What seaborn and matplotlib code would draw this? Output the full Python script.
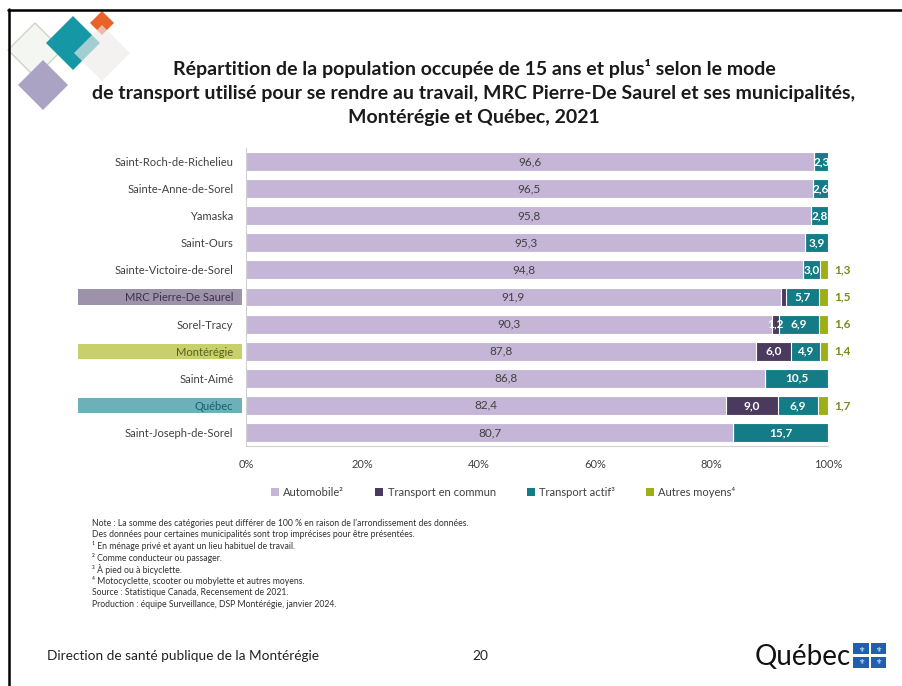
# Répartition de la population occupée selon le mode de transport - MRC Pierre-De Saurel
import numpy as np
import pandas as pd
import matplotlib
matplotlib.use('Agg')
import matplotlib.pyplot as plt
import seaborn as sns
from matplotlib.patches import Patch, Rectangle, RegularPolygon
from matplotlib.lines import Line2D
from matplotlib.transforms import blended_transform_factory

# Data (%)
lieux = ['Saint-Roch-de-Richelieu', 'Sainte-Anne-de-Sorel', 'Yamaska', 'Saint-Ours',
         'Sainte-Victoire-de-Sorel', 'MRC Pierre-De Saurel', 'Sorel-Tracy', 'Montérégie',
         'Saint-Aimé', 'Québec', 'Saint-Joseph-de-Sorel']
automobile = [96.6, 96.5, 95.8, 95.3, 94.8, 91.9, 90.3, 87.8, 86.8, 82.4, 80.7]
transport_commun = [0, 0, 0, 0, 0, 0.9, 1.2, 6.0, 0, 9.0, 0]
transport_actif = [2.3, 2.6, 2.8, 3.9, 3.0, 5.7, 6.9, 4.9, 10.5, 6.9, 15.7]
autres_moyens = [0, 0, 0, 0, 1.3, 1.5, 1.6, 1.4, 0, 1.7, 0]

modes = ['Automobile²', 'Transport en commun', 'Transport actif³', 'Autres moyens⁴']
couleurs = ['#C5B6D7', '#4A3B5E', '#137C87', '#9DAE17']
x_ticks = [0, 20, 40, 60, 80, 100]

# highlighted regions: (box colour, text colour)
surlignes = {'MRC Pierre-De Saurel': ('#9C92AA', '#3B3148'),
             'Montérégie': ('#C7D06B', '#56601C'),
             'Québec': ('#6DB0BA', '#1B5E69')}

notes = ["Note : La somme des catégories peut différer de 100 % en raison de l’arrondissement des données.",
         "Des données pour certaines municipalités sont trop imprécises pour être présentées.",
         "¹ En ménage privé et ayant un lieu habituel de travail.",
         "² Comme conducteur ou passager.",
         "³ À pied ou à bicyclette.",
         "⁴ Motocyclette, scooter ou mobylette et autres moyens.",
         "Source : Statistique Canada, Recensement de 2021.",
         "Production : équipe Surveillance, DSP Montérégie, janvier 2024."]

titre = ["Répartition de la population occupée de 15 ans et plus¹ selon le mode",
         "de transport utilisé pour se rendre au travail, MRC Pierre-De Saurel et ses municipalités,",
         "Montérégie et Québec, 2021"]

# 100 % stacked: normalise each row like the original chart
df = pd.DataFrame({'lieu': lieux, 'auto': automobile, 'commun': transport_commun,
                   'actif': transport_actif, 'autres': autres_moyens})
cols = ['auto', 'commun', 'actif', 'autres']
total = df[cols].sum(axis=1)
for c in cols:
    df['p_' + c] = df[c] / total * 100
cum = df[['p_' + c for c in cols]].cumsum(axis=1)
for i, c in enumerate(cols):
    df['cum_' + c] = cum.iloc[:, i]

sns.set_style('white')
plt.rcParams['font.family'] = ['Lato', 'DejaVu Sans']
W, H = 902, 686
fig = plt.figure(figsize=(W / 100, H / 100), dpi=100)
ax = fig.add_axes([246 / W, 1 - 446 / H, 582 / W, 298 / H])

# draw from the widest cumulative layer down
for c, col in reversed(list(zip(cols, couleurs))):
    sns.barplot(data=df, x='cum_' + c, y='lieu', order=lieux, orient='h', color=col,
                saturation=1, width=0.7, edgecolor='white', linewidth=0.8,
                errorbar=None, ax=ax)

def fmt(v):
    return f'{v:.1f}'.replace('.', ',')

for i, row in df.iterrows():
    start = 0
    for c, lab_col in zip(cols[:3], ['#404040', 'white', 'white']):
        share = row['p_' + c]
        if row[c] >= 1:
            ax.text(start + share / 2, i, fmt(row[c]), ha='center', va='center',
                    fontsize=8.5, color=lab_col,
                    fontweight='normal' if c == 'auto' else 'bold')
        start += share
    if row['autres'] > 0:
        ax.text(101, i, fmt(row['autres']), ha='left', va='center', fontsize=8.5,
                color='#7C8A1C', fontweight='bold')

ax.set_xlim(0, 100)
ax.set_xticks(x_ticks)
ax.set_xticklabels([f'{t}%' for t in x_ticks])
ax.set_xlabel('')
ax.set_ylabel('')
ax.tick_params(axis='x', length=4, color='#BFBFBF', labelsize=8, labelcolor='#404040', pad=5)
ax.tick_params(axis='y', length=0, labelsize=8, labelcolor='#404040', pad=9)
for s in ['top', 'right']:
    ax.spines[s].set_visible(False)
for s in ['left', 'bottom']:
    ax.spines[s].set_color('#D0D0D0')
    ax.spines[s].set_linewidth(0.8)

# highlighted category labels
trans = blended_transform_factory(ax.transAxes, ax.transData)
for lab in ax.get_yticklabels():
    name = lab.get_text()
    if name in surlignes:
        box, txt = surlignes[name]
        i = lieux.index(name)
        ax.add_patch(Rectangle((-0.2887, i - 0.28), 0.2818, 0.56, transform=trans,
                               facecolor=box, edgecolor='none', clip_on=False, zorder=0))
        lab.set_color(txt)

# legend
handles = [Patch(facecolor=c, edgecolor='none') for c in couleurs]
fig.legend(handles, modes, loc='center', bbox_to_anchor=(0.558, 1 - 492 / H), ncol=4,
           frameon=False, fontsize=8, handlelength=0.7, handleheight=0.7,
           handletextpad=0.4, columnspacing=2.8, labelcolor='#404040')

# title
for k, (line, y) in enumerate(zip(titre, [68, 93, 117])):
    fig.text(474 / W, 1 - y / H, line, ha='center', va='center', fontsize=14,
             fontweight='bold', color='#1A1A1A')

# notes
for k, line in enumerate(notes):
    fig.text(92 / W, 1 - (523 + k * 11.6) / H, line, ha='left', va='center',
             fontsize=6.2, color='#303030')

# footer
fig.text(47 / W, 1 - 656 / H, 'Direction de santé publique de la Montérégie',
         ha='left', va='center', fontsize=9.8, color='#222222')
fig.text(480 / W, 1 - 656 / H, '20', ha='center', va='center', fontsize=9.8, color='#222222')
fig.text(755 / W, 1 - 657 / H, 'Québec', ha='left', va='center', fontsize=20, color='#111111')

inch = fig.dpi_scale_trans
def pin(x, y):
    return (x / 100, (H - y) / 100)

fig.add_artist(Rectangle(pin(853, 668), 0.33, 0.25, transform=inch,
                         facecolor='#1F5FAE', edgecolor='none'))
fig.add_artist(Rectangle(pin(868.5, 668), 0.03, 0.25, transform=inch,
                         facecolor='white', edgecolor='none'))
fig.add_artist(Rectangle(pin(853, 656.5), 0.33, 0.025, transform=inch,
                         facecolor='white', edgecolor='none'))
for fx_, fy_ in [(861, 650), (878, 650), (861, 662), (878, 662)]:
    fig.text(fx_ / W, 1 - fy_ / H, '⚜', ha='center', va='center', fontsize=5,
             color='white', family='DejaVu Sans')

# logo (top left)
losanges = [((35, 50), 27, '#F4F6F1', '#CCD5C4', 1.0),
            ((73, 43), 27, '#1697A6', 'none', 1.0),
            ((102, 23), 12, '#E8622A', 'none', 1.0),
            ((102, 53), 28, '#EEECEA', 'none', 0.65),
            ((43, 85), 25, '#ABA3C3', 'none', 1.0)]
for (cx, cy), r, fc, ec, a in losanges:
    fig.add_artist(RegularPolygon(pin(cx, cy), numVertices=4, radius=r / 100,
                                  orientation=0, transform=inch, facecolor=fc,
                                  edgecolor=ec, alpha=a, linewidth=1))

# slide border
fig.add_artist(Line2D([0.08, W / 100], [(H - 10) / 100] * 2, transform=inch,
                      color='black', linewidth=1.8))
fig.add_artist(Line2D([0.09, 0.09], [0, (H - 9) / 100], transform=inch,
                      color='black', linewidth=1.8))

fig.savefig('out.png', dpi=100)
